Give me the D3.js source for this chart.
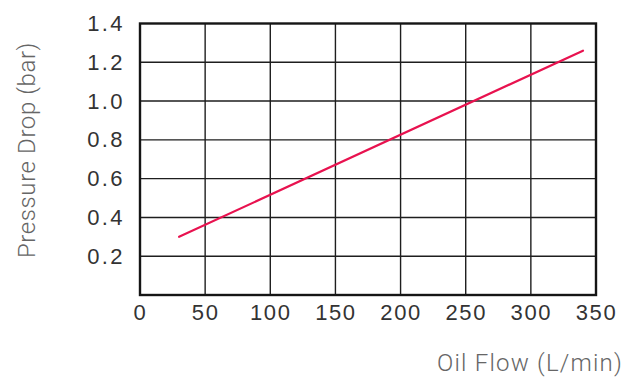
<!DOCTYPE html>
<html>
<head>
<meta charset="utf-8">
<script src="https://cdn.jsdelivr.net/npm/d3@7"></script>
<style>
  html, body { margin: 0; padding: 0; background: #fff; }
  svg { display: block; }
</style>
</head>
<body>
<svg id="chart" width="638" height="377"></svg>
<script>
// Pressure drop vs. oil flow
const flow = [30, 340];          // L/min
const pressure = [0.30, 1.26];   // bar
const xTicks = [0, 50, 100, 150, 200, 250, 300, 350];
const yTicks = [0.2, 0.4, 0.6, 0.8, 1.0, 1.2, 1.4];

const svg = d3.select("#chart");
const x = d3.scaleLinear().domain([0, 350]).range([140, 596]);
const y = d3.scaleLinear().domain([0, 1.4]).range([295, 23.5]);

const tickFont = "Liberation Sans, Arial, sans-serif";
const titleFont = "Roboto, Lato, sans-serif";

// grid
const grid = svg.append("g").attr("stroke", "#1e1e1e").attr("stroke-width", 1.4);
grid.selectAll("line.v").data(xTicks.slice(1, -1)).join("line")
  .attr("x1", d => x(d)).attr("x2", d => x(d))
  .attr("y1", y(1.4)).attr("y2", y(0));
grid.selectAll("line.h").data(yTicks.slice(0, -1)).join("line")
  .attr("y1", d => y(d)).attr("y2", d => y(d))
  .attr("x1", x(0)).attr("x2", x(350));

// frame
svg.append("rect")
  .attr("x", x(0)).attr("y", y(1.4))
  .attr("width", x(350) - x(0)).attr("height", y(0) - y(1.4))
  .attr("fill", "none").attr("stroke", "#151515").attr("stroke-width", 2.4);

// tick labels
const xAxis = d3.axisBottom(x).tickValues(xTicks).tickSize(0).tickPadding(9).tickFormat(d3.format("d"));
svg.append("g").attr("transform", `translate(0,${y(0)})`).call(xAxis)
  .call(g => g.select(".domain").remove())
  .selectAll("text").attr("font-family", tickFont)
  .attr("font-size", 22).attr("letter-spacing", 1.6).attr("fill", "#333");

const yAxis = d3.axisLeft(y).tickValues(yTicks).tickSize(0).tickPadding(15).tickFormat(d3.format(".1f"));
svg.append("g").attr("transform", `translate(${x(0)},0)`).call(yAxis)
  .call(g => g.select(".domain").remove())
  .selectAll("text").attr("font-family", tickFont)
  .attr("font-size", 22).attr("letter-spacing", 2.4).attr("fill", "#333");

// curve
svg.append("path")
  .datum(flow.map((f, i) => [f, pressure[i]]))
  .attr("d", d3.line().x(d => x(d[0])).y(d => y(d[1])))
  .attr("fill", "none").attr("stroke", "#e8124f").attr("stroke-width", 2.2)
  .attr("stroke-linecap", "round");

// axis titles
svg.append("text")
  .attr("x", 623).attr("y", 371).attr("text-anchor", "end")
  .attr("font-family", titleFont).attr("font-weight", 300)
  .attr("font-size", 24).attr("letter-spacing", 1.2).attr("fill", "#666")
  .text("Oil Flow (L/min)");

svg.append("text")
  .attr("transform", "translate(35,150) rotate(-90)").attr("text-anchor", "middle")
  .attr("font-family", titleFont).attr("font-weight", 300)
  .attr("font-size", 24).attr("letter-spacing", 0.6).attr("fill", "#666")
  .text("Pressure Drop (bar)");
</script>
</body>
</html>
